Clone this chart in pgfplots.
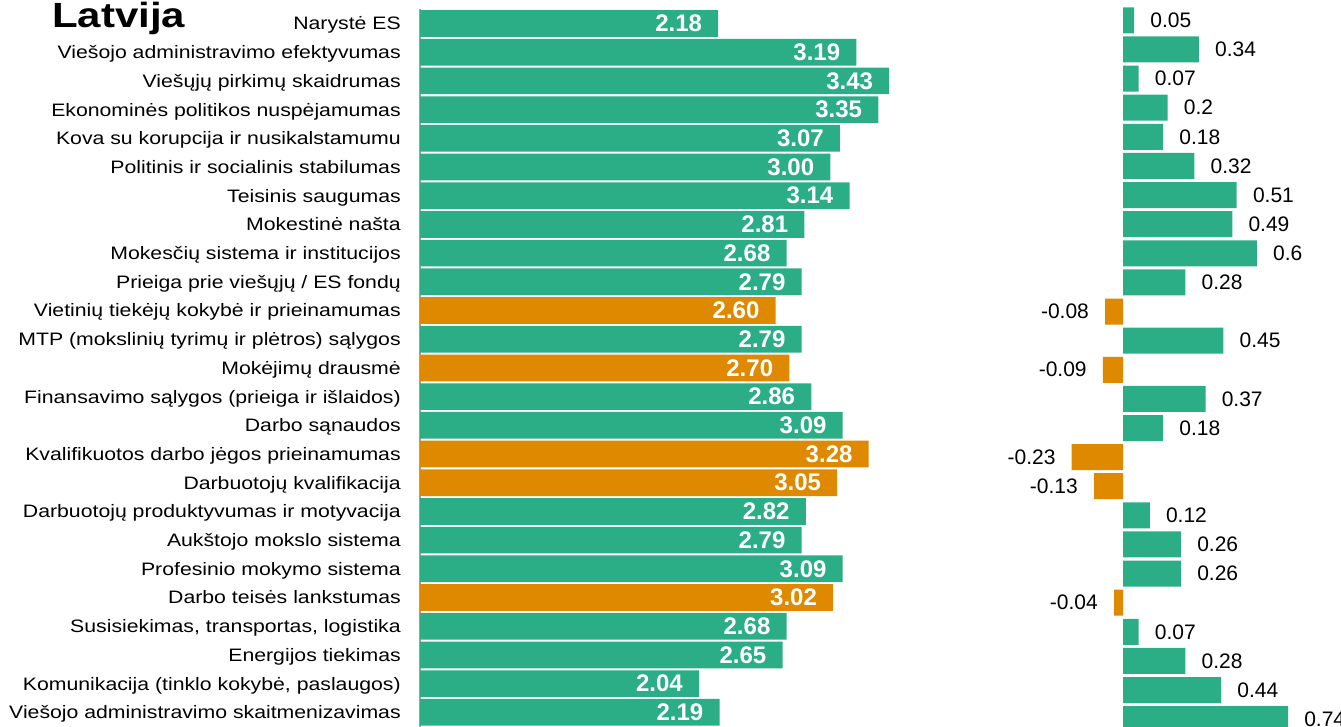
\documentclass[border=0pt]{standalone}
\usepackage{fontspec}
\setmainfont{Liberation Sans}
\newfontfamily\labfont{Liberation Sans}[FakeStretch=1.18]
\newfontfamily\titlefont{Liberation Sans}[FakeStretch=1.2]
\usepackage{pgfplots}
\pgfplotsset{compat=1.18}
\definecolor{cgreen}{RGB}{43,174,133}
\definecolor{corange}{RGB}{223,137,0}
\begin{document}
\begin{tikzpicture}
% ---------------- left panel: index ----------------
\begin{axis}[
  at={(315pt,-6.8625pt)}, anchor=north west,
  x=102.6pt, y=21.525pt,
  xmin=0, xmax=3.6, ymin=-0.5, ymax=24.5,
  y dir=reverse,
  xbar, bar width=20pt, bar shift=0pt,
  axis x line=none, axis y line*=left,
  axis line style={draw=gray!75, line width=1.3pt},
  xtick=\empty,
  ytick={0,...,24},
  yticklabels={Narystė ES,
    Viešojo administravimo efektyvumas,
    Viešųjų pirkimų skaidrumas,
    Ekonominės politikos nuspėjamumas,
    Kova su korupcija ir nusikalstamumu,
    Politinis ir socialinis stabilumas,
    Teisinis saugumas,
    Mokestinė našta,
    Mokesčių sistema ir institucijos,
    Prieiga prie viešųjų / ES fondų,
    Vietinių tiekėjų kokybė ir prieinamumas,
    MTP (mokslinių tyrimų ir plėtros) sąlygos,
    Mokėjimų drausmė,
    Finansavimo sąlygos (prieiga ir išlaidos),
    Darbo sąnaudos,
    Kvalifikuotos darbo jėgos prieinamumas,
    Darbuotojų kvalifikacija,
    Darbuotojų produktyvumas ir motyvacija,
    Aukštojo mokslo sistema,
    Profesinio mokymo sistema,
    Darbo teisės lankstumas,
    {Susisiekimas, transportas, logistika},
    Energijos tiekimas,
    {Komunikacija (tinklo kokybė, paslaugos)},
    Viešojo administravimo skaitmenizavimas},
  major tick length=0pt,
  yticklabel style={font=\labfont\fontsize{13.5pt}{16pt}\selectfont, anchor=base east, inner sep=0pt, xshift=-14.25pt, yshift=-4.8pt},
  clip=false,
  point meta=explicit symbolic,
  nodes near coords,
  every node near coord/.append style={font=\bfseries\fontsize{18pt}{20pt}\selectfont, text=white, anchor=east, inner sep=0pt, xshift=-12pt},
]
\addplot[fill=cgreen, draw=none] coordinates {
  (2.18,0) [2.18] (3.19,1) [3.19] (3.43,2) [3.43] (3.35,3) [3.35]
  (3.07,4) [3.07] (3.00,5) [3.00] (3.14,6) [3.14] (2.81,7) [2.81]
  (2.68,8) [2.68] (2.79,9) [2.79] (2.79,11) [2.79] (2.86,13) [2.86]
  (3.09,14) [3.09] (2.82,17) [2.82] (2.79,18) [2.79] (3.09,19) [3.09]
  (2.68,21) [2.68] (2.65,22) [2.65] (2.04,23) [2.04] (2.19,24) [2.19]
};
\addplot[fill=corange, draw=none] coordinates {
  (2.60,10) [2.60] (2.70,12) [2.70] (3.28,15) [3.28] (3.05,16) [3.05] (3.02,20) [3.02]
};
\end{axis}
% ---------------- right panel: change ----------------
\begin{axis}[
  at={(792.075pt,-4.305pt)}, anchor=north west,
  x=167.25pt, y=21.84pt,
  xmin=-0.3, xmax=0.8, ymin=-0.5, ymax=24.5,
  y dir=reverse,
  hide axis,
  xbar, bar width=19.5pt, bar shift=0pt,
  clip=false,
  point meta=explicit symbolic,
  nodes near coords,
  every node near coord/.append style={font=\fontsize{15.75pt}{18pt}\selectfont, text=black, inner sep=0pt},
]
\addplot[fill=cgreen, draw=none, every node near coord/.append style={anchor=west, xshift=12pt}] coordinates {
  (0.05,0) [0.05] (0.34,1) [0.34] (0.07,2) [0.07] (0.2,3) [0.2]
  (0.18,4) [0.18] (0.32,5) [0.32] (0.51,6) [0.51] (0.49,7) [0.49]
  (0.6,8) [0.6] (0.28,9) [0.28] (0.45,11) [0.45] (0.37,13) [0.37]
  (0.18,14) [0.18] (0.12,17) [0.12] (0.26,18) [0.26] (0.26,19) [0.26]
  (0.07,21) [0.07] (0.28,22) [0.28] (0.44,23) [0.44] (0.74,24) [0.74]
};
\addplot[fill=corange, draw=none, every node near coord/.append style={anchor=east, xshift=-12pt}] coordinates {
  (-0.08,10) [-0.08] (-0.09,12) [-0.09] (-0.23,15) [-0.23] (-0.13,16) [-0.13] (-0.04,20) [-0.04]
};
\end{axis}
\node[anchor=base west, inner sep=0pt, font=\titlefont\bfseries\fontsize{26.25pt}{30pt}\selectfont] at (39pt,-20.25pt) {Latvija};
\pgfresetboundingbox
\path[use as bounding box] (0,0) rectangle (1005.75pt,-544.5pt);
\end{tikzpicture}
\end{document}
